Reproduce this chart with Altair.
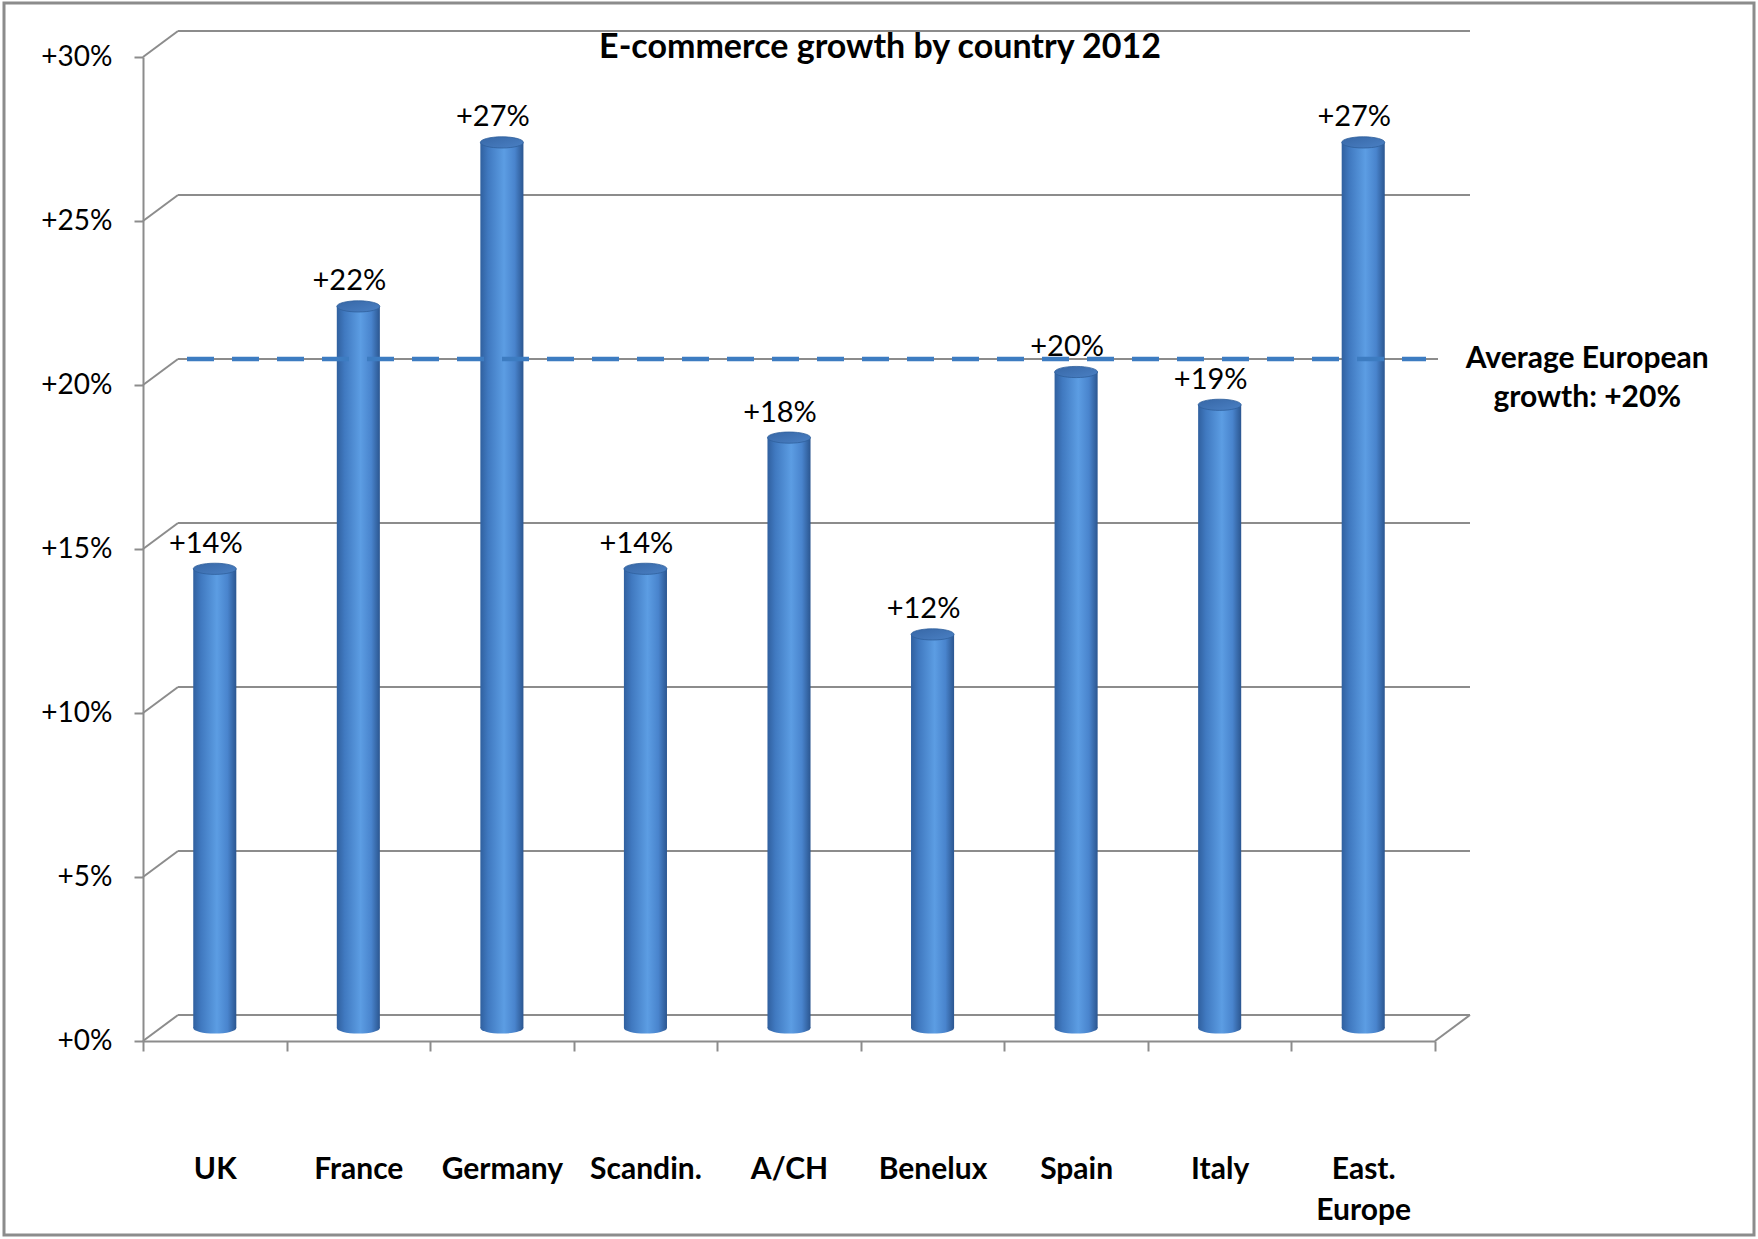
import altair as alt
import pandas as pd

# ---- data ----
countries = ["UK", "France", "Germany", "Scandin.", "A/CH", "Benelux", "Spain", "Italy", "East. Europe"]
growth = [14, 22, 27, 14, 18, 12, 20, 19, 27]
average_growth = 20
y_ticks = [0, 5, 10, 15, 20, 25, 30]
title_text = "E-commerce growth by country 2012"
avg_label = ["Average European", "growth: +20%"]

df = pd.DataFrame({"country": countries, "value": growth})
grid_df = pd.DataFrame({"value": y_ticks})
avg_df = pd.DataFrame({"value": [average_growth], "country": [countries[-1]]})
zero_df = pd.DataFrame({"value": [0]})
one_df = pd.DataFrame({"a": [0]})

# ---- geometry / style ----
W, H = 1292, 984
DX, DY = 35, -26          # depth offset of back wall
MID = -13                 # bars sit mid-depth
GRAY = "#8c8c8c"
FONT = "Lato"

bar_grad = alt.LinearGradient(
    gradient="linear", x1=0, x2=1, y1=0, y2=0,
    stops=[
        alt.GradientStop(offset=0, color="#30609f"),
        alt.GradientStop(offset=0.18, color="#4079c0"),
        alt.GradientStop(offset=0.55, color="#5c9de3"),
        alt.GradientStop(offset=0.8, color="#4984cd"),
        alt.GradientStop(offset=1, color="#2b5690"),
    ],
)
top_grad = alt.LinearGradient(
    gradient="linear", x1=0, x2=1, y1=0, y2=1,
    stops=[
        alt.GradientStop(offset=0, color="#3767a6"),
        alt.GradientStop(offset=1, color="#4a80c4"),
    ],
)

xscale = alt.Scale(domain=countries, paddingInner=0, paddingOuter=0)
yscale = alt.Scale(domain=[0, 30], nice=False, zero=True)

X = alt.X(
    "country:N", sort=countries, scale=xscale, title=None,
    axis=alt.Axis(
        tickBand="extent", labelAngle=0, labelPadding=103, labelBaseline="top",
        labelFont=FONT, labelFontSize=30, labelFontWeight="bold", labelColor="black",
        labelLineHeight=41,
        labelExpr="datum.value == 'East. Europe' ? ['East.', 'Europe'] : datum.value",
        domainColor=GRAY, domainWidth=2, tickColor=GRAY, tickWidth=2, tickSize=10,
    ),
)
Y = alt.Y(
    "value:Q", scale=yscale, title=None,
    axis=alt.Axis(
        values=y_ticks, grid=False, labelExpr="'+' + datum.value + '%'",
        labelFont=FONT, labelFontSize=28, labelColor="black", labelPadding=22,
        domainColor=GRAY, domainWidth=2, tickColor=GRAY, tickWidth=2, tickSize=9,
    ),
)

base = alt.Chart(df)

bars = base.mark_bar(
    fill=bar_grad, width=alt.RelativeBandSize(0.3), yOffset=MID, y2Offset=MID
).encode(x=X, y=Y, y2=alt.datum(0))

frame = alt.Chart(one_df).mark_rect(
    fill="transparent", stroke=GRAY, strokeWidth=3
).encode(
    x=alt.value(-139), x2=alt.value(1611), y=alt.value(-54), y2=alt.value(1178)
)

back_grid = alt.Chart(grid_df).mark_rule(
    color=GRAY, strokeWidth=2, xOffset=DX, x2Offset=DX, yOffset=DY, y2Offset=DY
).encode(y=Y, y2="value:Q", x=alt.value(0), x2=alt.value(W))

left_diag = alt.Chart(grid_df).mark_rule(
    color=GRAY, strokeWidth=2, x2Offset=DX, y2Offset=DY
).encode(y=Y, y2="value:Q", x=alt.value(0), x2=alt.value(0))

right_diag = alt.Chart(zero_df).mark_rule(
    color=GRAY, strokeWidth=2, x2Offset=DX, y2Offset=DY
).encode(y=Y, y2="value:Q", x=alt.value(W), x2=alt.value(W))

ellipse = "M-1,0 A1,0.26 0 1,0 1,0 A1,0.26 0 1,0 -1,0 Z"

bottoms = base.mark_point(
    shape=ellipse, size=43 * 43, filled=True, fill=bar_grad, opacity=1,
    strokeWidth=0, yOffset=MID
).encode(x=X, y=alt.datum(0))

tops = base.mark_point(
    shape=ellipse, size=43 * 43, filled=True, fill=top_grad, opacity=1,
    stroke="#2f5f9c", strokeWidth=0.8, yOffset=MID
).encode(x=X, y=Y)

avg_line = alt.Chart(avg_df).mark_rule(
    color="#3d7cc1", strokeWidth=4.5, strokeDash=[27, 18],
    xOffset=44, x2Offset=-9, yOffset=DY, y2Offset=DY
).encode(y=Y, y2="value:Q", x=alt.value(0), x2=alt.value(W))

# white box edge of the annotation covering the back gridline
avg_gap = alt.Chart(avg_df).mark_rule(
    color="white", strokeWidth=5, xOffset=3, x2Offset=DX + 6, yOffset=DY, y2Offset=DY
).encode(y=Y, y2="value:Q", x=alt.value(W), x2=alt.value(W))

labels = base.transform_calculate(
    lbl="'+' + datum.value + '%'"
).mark_text(
    font=FONT, fontSize=29, color="black", baseline="alphabetic", dx=-9, yOffset=-29
).encode(x=X, y=Y, text="lbl:N")

avg_text = alt.Chart(avg_df).mark_text(
    font=FONT, fontSize=30, fontWeight="bold", color="black",
    baseline="alphabetic", align="center", dx=224, yOffset=-17, lineHeight=39,
).encode(x=X, y=Y, text=alt.value(avg_label))

title = alt.Chart(one_df).mark_text(
    font=FONT, fontSize=34, fontWeight="bold", color="black",
    baseline="alphabetic", align="center",
).encode(x=alt.value(737), y=alt.value(1), text=alt.value(title_text))

chart = alt.layer(
    frame, back_grid, left_diag, right_diag, bars, bottoms, tops,
    avg_line, avg_gap, labels, avg_text, title
).properties(
    width=W, height=H,
    background="white",
    autosize=alt.AutoSizeParams(type="none"),
    padding={"left": 143, "top": 57, "right": 323, "bottom": 198},
).configure_view(stroke="transparent", strokeWidth=0)

chart.save("out.html", embed_options={"renderer": "svg", "actions": False})
